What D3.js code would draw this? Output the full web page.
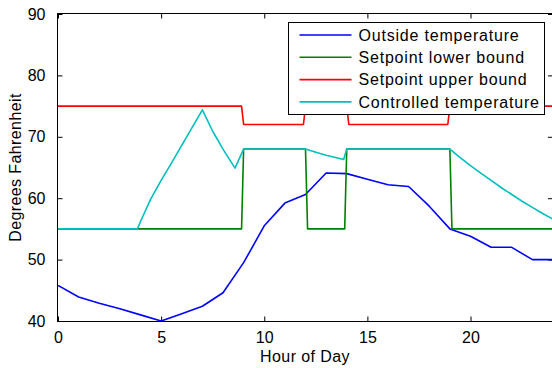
<!DOCTYPE html>
<html lang="en">
<head>
  <meta charset="UTF-8">
  <title>Controlled temperature</title>
  <script src="https://cdn.jsdelivr.net/npm/d3@7"></script>
  <style>
    body { margin: 0; background: #fff; }
    text { font-family: "Liberation Sans", Arial, sans-serif; font-size: 16px; fill: #000; }
    .axis path, .axis line { stroke: #000; }
  </style>
</head>
<body>
<svg id="chart" width="552" height="368"></svg>
<script>
  // hourly outside temperature
  var hours = [0,1,2,3,4,5,6,7,8,9,10,11,12,13,14,15,16,17,18,19,20,21,22,23,24];
  var outside = [45.8,43.9,42.9,42.0,41.0,40.0,41.2,42.4,44.6,49.5,55.5,59.2,60.6,64.1,64.0,63.1,62.2,61.9,58.7,55.0,53.8,52.0,52.0,50.0,50.0];

  // setpoint schedule (hour, degrees)
  var lowerHours = [0,8.9,9,12,12.1,13.9,14,19,19.1,24];
  var lowerVals  = [55,55,68,68,55,55,68,68,55,55];
  var upperHours = [0,8.9,9,11.9,12,14,14.1,18.9,19,24];
  var upperVals  = [75,75,72,72,75,75,72,72,75,75];

  // controlled (indoor) temperature
  var ctrlHours = [0,3.85,4,4.5,5,5.5,6,6.5,7,7.5,8,8.58,9,12,12.5,13,13.5,13.85,14,19,19.5,20,20.5,21,21.5,22,22.5,23,23.5,24];
  var ctrlVals  = [55,55,56.2,59.9,62.9,65.7,68.6,71.5,74.4,70.9,68.0,64.9,68,68,67.5,67.0,66.6,66.3,68,68,66.6,65.3,64.1,62.9,61.7,60.6,59.5,58.5,57.5,56.6];

  var seriesNames = ["Outside temperature","Setpoint lower bound","Setpoint upper bound","Controlled temperature"];
  var xTicks = [0,5,10,15,20];
  var yTicks = [40,50,60,70,80,90];

  var svg = d3.select("#chart");
  var plotL = 58, plotR = 553, plotT = 14, plotB = 321;

  var x = d3.scaleLinear().domain([0, 24]).range([plotL, plotR]);
  var y = d3.scaleLinear().domain([40, 90]).range([plotB, plotT]);

  function zip(xs, ys) { return xs.map(function(h, i) { return [h, ys[i]]; }); }

  var series = [
    { pts: zip(hours, outside), color: "#0000ff" },
    { pts: zip(lowerHours, lowerVals), color: "#008000" },
    { pts: zip(upperHours, upperVals), color: "#ff0000" },
    { pts: zip(ctrlHours, ctrlVals), color: "#00bfbf" }
  ];

  var line = d3.line()
    .x(function(d) { return x(d[0]); })
    .y(function(d) { return y(d[1]); });

  svg.append("defs").append("clipPath").attr("id", "clip")
    .append("rect").attr("x", plotL).attr("y", plotT - 2).attr("width", plotR - plotL).attr("height", plotB - plotT + 4);

  // axes: ticks point inward, box on all four sides
  svg.append("g").attr("class", "axis").attr("transform", "translate(0," + (plotB + 0.5) + ")")
    .call(d3.axisBottom(x).tickValues(xTicks).tickSizeInner(-5).tickSizeOuter(0).tickPadding(10))
    .call(function(g) { g.selectAll("text").attr("dy", "0.71em"); });
  svg.append("g").attr("class", "axis").attr("transform", "translate(0," + (plotT - 0.5) + ")")
    .call(d3.axisTop(x).tickValues(xTicks).tickSizeInner(-5).tickSizeOuter(0).tickFormat(""));
  svg.append("g").attr("class", "axis").attr("transform", "translate(" + (plotL - 0.5) + ",0)")
    .call(d3.axisLeft(y).tickValues(yTicks).tickSizeInner(-5).tickSizeOuter(0).tickPadding(12));
  svg.append("g").attr("class", "axis").attr("transform", "translate(" + (plotR) + ",0)")
    .call(d3.axisRight(y).tickValues(yTicks).tickSizeInner(-5).tickSizeOuter(0).tickFormat(""));
  svg.selectAll(".axis .domain").remove();
  svg.selectAll(".axis text").style("font-size", "16px").attr("fill", "#000");

  // plot box
  svg.append("rect").attr("x", plotL - 0.5).attr("y", plotT - 0.5)
    .attr("width", plotR - plotL + 0.5).attr("height", plotB - plotT + 1)
    .attr("fill", "none").attr("stroke", "#000");

  svg.append("g").attr("clip-path", "url(#clip)")
    .selectAll("path.series").data(series).enter().append("path")
    .attr("class", "series")
    .attr("d", function(d) { return line(d.pts); })
    .attr("fill", "none")
    .attr("stroke", function(d) { return d.color; })
    .attr("stroke-width", 1.6)
    .attr("stroke-linejoin", "round");

  // axis titles
  svg.append("text").attr("x", (plotL + plotR) / 2 - 0.5).attr("y", 362)
    .attr("text-anchor", "middle").style("letter-spacing", "0.4px").text("Hour of Day");
  svg.append("text").attr("transform", "translate(21," + ((plotT + plotB) / 2) + ") rotate(-90)")
    .attr("text-anchor", "middle").style("letter-spacing", "0.4px").text("Degrees Fahrenheit");

  // legend
  var lg = svg.append("g").attr("transform", "translate(288.5,22.5)");
  lg.append("rect").attr("width", 256).attr("height", 92)
    .attr("fill", "#fff").attr("stroke", "#000");
  var item = lg.selectAll("g.item").data(series).enter().append("g")
    .attr("class", "item")
    .attr("transform", function(d, i) { return "translate(0," + (12.5 + i * 22.3) + ")"; });
  item.append("line").attr("x1", 11).attr("x2", 63)
    .attr("stroke", function(d) { return d.color; }).attr("stroke-width", 1.6);
  item.append("text").attr("x", 70).attr("dy", "0.36em")
    .style("letter-spacing", "0.8px")
    .text(function(d, i) { return seriesNames[i]; });
</script>
</body>
</html>
